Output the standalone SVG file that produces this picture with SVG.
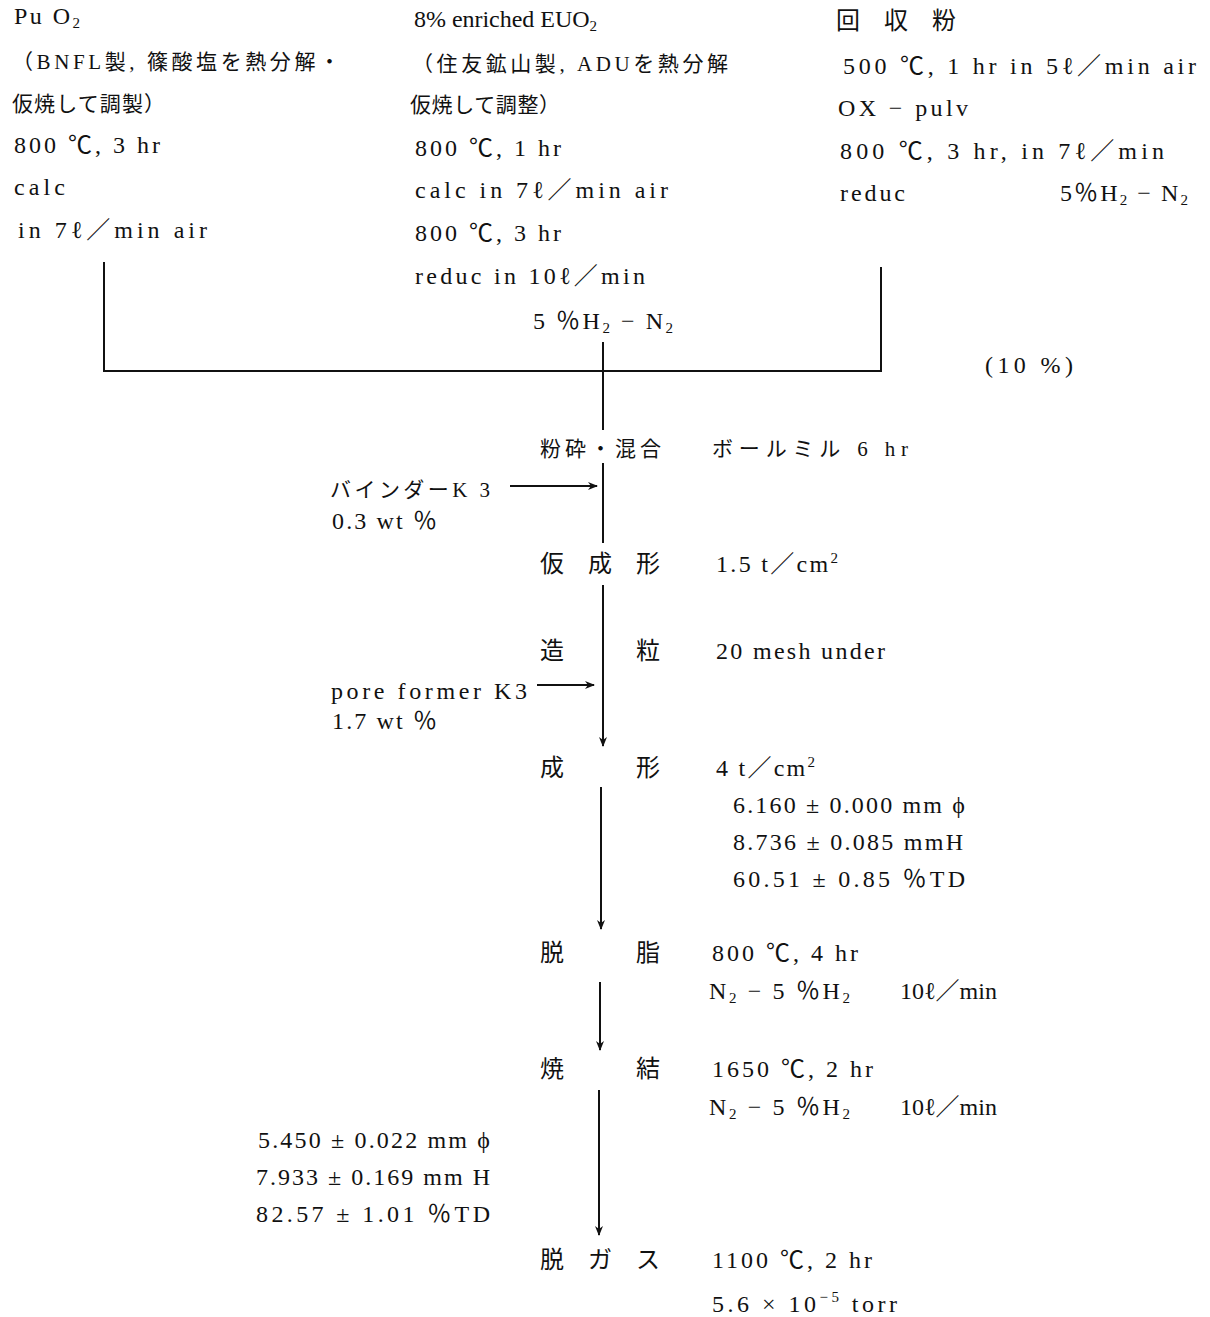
<svg xmlns="http://www.w3.org/2000/svg" width="1210" height="1317" viewBox="0 0 1210 1317">
<style>
text{font-family:"Liberation Serif","Noto Sans CJK JP",serif;font-size:24px;fill:#111}
.c{font-size:21px}
.s{font-size:15px}
.ln{stroke:#111;stroke-width:2;fill:none}
</style>
<defs>
<marker id="ah" viewBox="0 0 10 10" refX="9" refY="5" markerWidth="10" markerHeight="10" markerUnits="userSpaceOnUse" orient="auto">
<path d="M0,1 L10,5 L0,9 L3,5 Z" fill="#111"/>
</marker>
</defs>
<rect width="1210" height="1317" fill="#fff"/>

<g id="connectors">
<path class="ln" d="M104,262 V371 H881 V267"/>
<path class="ln" d="M603,342 V430"/>
<path class="ln" d="M603,463 V543"/>
<path class="ln" d="M510,486 H597" marker-end="url(#ah)"/>
<path class="ln" d="M603,585 V746" marker-end="url(#ah)"/>
<path class="ln" d="M537,685 H594" marker-end="url(#ah)"/>
<path class="ln" d="M601,787 V929" marker-end="url(#ah)"/>
<path class="ln" d="M600,982 V1050" marker-end="url(#ah)"/>
<path class="ln" d="M599,1090 V1235" marker-end="url(#ah)"/>
</g>

<g id="node-puo2">
<text x="14" y="24" textLength="66" lengthAdjust="spacing">Pu O<tspan class="s" dy="4">2</tspan></text>
<text class="c" x="12" y="69" textLength="328" lengthAdjust="spacing">（BNFL製, 篠酸塩を熱分解・</text>
<text class="c" x="12" y="111" textLength="153" lengthAdjust="spacing">仮焼して調製）</text>
<text x="14" y="153" textLength="146" lengthAdjust="spacing">800 ℃,  3 hr</text>
<text x="14" y="195" textLength="51" lengthAdjust="spacing">calc</text>
<text x="18" y="238" textLength="189" lengthAdjust="spacing">in 7ℓ／min air</text>
</g>

<g id="node-euo2">
<text x="414" y="27" font-size="22" textLength="183" lengthAdjust="spacing">8% enriched EUO<tspan class="s" dy="4">2</tspan></text>
<text class="c" x="412" y="71" textLength="316" lengthAdjust="spacing">（住友鉱山製, ADUを熱分解</text>
<text class="c" x="410" y="112" textLength="150" lengthAdjust="spacing">仮焼して調整）</text>
<text x="415" y="156" textLength="146" lengthAdjust="spacing">800 ℃,  1 hr</text>
<text x="415" y="198" textLength="253" lengthAdjust="spacing">calc in 7ℓ／min air</text>
<text x="415" y="241" textLength="146" lengthAdjust="spacing">800 ℃,  3 hr</text>
<text x="415" y="284" textLength="230" lengthAdjust="spacing">reduc in 10ℓ／min</text>
<text x="533" y="329" textLength="140" lengthAdjust="spacing">5 ％H<tspan class="s" dy="4">2</tspan><tspan dy="-4"> − N</tspan><tspan class="s" dy="4">2</tspan></text>
</g>

<g id="node-recovered">
<text x="836 884 932" y="29">回収粉</text>
<text x="843" y="74" textLength="353" lengthAdjust="spacing">500 ℃,  1 hr  in 5ℓ／min air</text>
<text x="838" y="116" textLength="130" lengthAdjust="spacing">OX −  pulv</text>
<text x="840" y="159" textLength="324" lengthAdjust="spacing">800 ℃,  3 hr,  in 7ℓ／min</text>
<text x="840" y="201" textLength="65" lengthAdjust="spacing">reduc</text>
<text x="1060" y="201" textLength="128" lengthAdjust="spacing">5％H<tspan class="s" dy="4">2</tspan><tspan dy="-4"> − N</tspan><tspan class="s" dy="4">2</tspan></text>
</g>

<g id="label-ratio">
<text x="985" y="373" font-size="22" textLength="88" lengthAdjust="spacing">(10 %)</text>
</g>

<g id="node-mill">
<text class="c" x="540" y="456" textLength="121" lengthAdjust="spacing">粉砕・混合</text>
<text class="c" x="712" y="456" textLength="196" lengthAdjust="spacing">ボールミル  6 hr</text>
</g>

<g id="node-binder">
<text class="c" x="330" y="497" textLength="160" lengthAdjust="spacing">バインダーK 3</text>
<text x="332" y="529" textLength="105" lengthAdjust="spacing">0.3 wt ％</text>
</g>

<g id="node-precompact">
<text x="540 588 636" y="572">仮成形</text>
<text x="716" y="572" textLength="122" lengthAdjust="spacing">1.5  t／cm<tspan class="s" dy="-9">2</tspan></text>
</g>

<g id="node-granulate">
<text x="540 636" y="659">造粒</text>
<text x="716" y="659" textLength="169" lengthAdjust="spacing">20 mesh under</text>
</g>

<g id="node-poreformer">
<text x="331" y="699" textLength="196" lengthAdjust="spacing">pore former K3</text>
<text x="332" y="729" textLength="105" lengthAdjust="spacing">1.7 wt ％</text>
</g>

<g id="node-compact">
<text x="540 636" y="776">成形</text>
<text x="716" y="776" textLength="99" lengthAdjust="spacing">4  t／cm<tspan class="s" dy="-9">2</tspan></text>
<text x="733" y="813" textLength="232" lengthAdjust="spacing">6.160 ± 0.000 mm ϕ</text>
<text x="733" y="850" textLength="230" lengthAdjust="spacing">8.736 ± 0.085 mmH</text>
<text x="733" y="887" textLength="232" lengthAdjust="spacing">60.51 ± 0.85  ％TD</text>
</g>

<g id="node-dewax">
<text x="540 636" y="961">脱脂</text>
<text x="712" y="961" textLength="146" lengthAdjust="spacing">800 ℃,  4 hr</text>
<text x="709" y="999" textLength="141" lengthAdjust="spacing">N<tspan class="s" dy="4">2</tspan><tspan dy="-4"> − 5 ％H</tspan><tspan class="s" dy="4">2</tspan></text>
<text x="900" y="999" textLength="97" lengthAdjust="spacing">10ℓ／min</text>
</g>

<g id="node-sinter">
<text x="540 636" y="1077">焼結</text>
<text x="712" y="1077" textLength="161" lengthAdjust="spacing">1650 ℃,  2 hr</text>
<text x="709" y="1115" textLength="141" lengthAdjust="spacing">N<tspan class="s" dy="4">2</tspan><tspan dy="-4"> − 5 ％H</tspan><tspan class="s" dy="4">2</tspan></text>
<text x="900" y="1115" textLength="97" lengthAdjust="spacing">10ℓ／min</text>
</g>

<g id="node-sinter-result">
<text x="258" y="1148" textLength="232" lengthAdjust="spacing">5.450 ± 0.022 mm ϕ</text>
<text x="256" y="1185" textLength="234" lengthAdjust="spacing">7.933 ± 0.169 mm H</text>
<text x="256" y="1222" textLength="234" lengthAdjust="spacing">82.57 ± 1.01  ％TD</text>
</g>

<g id="node-degas">
<text x="540 588 636" y="1268">脱ガス</text>
<text x="712" y="1268" textLength="160" lengthAdjust="spacing">1100 ℃,  2 hr</text>
<text x="712" y="1312" textLength="185" lengthAdjust="spacing">5.6 × 10<tspan class="s" dy="-10">−5</tspan><tspan dy="10">  torr</tspan></text>
</g>
</svg>
